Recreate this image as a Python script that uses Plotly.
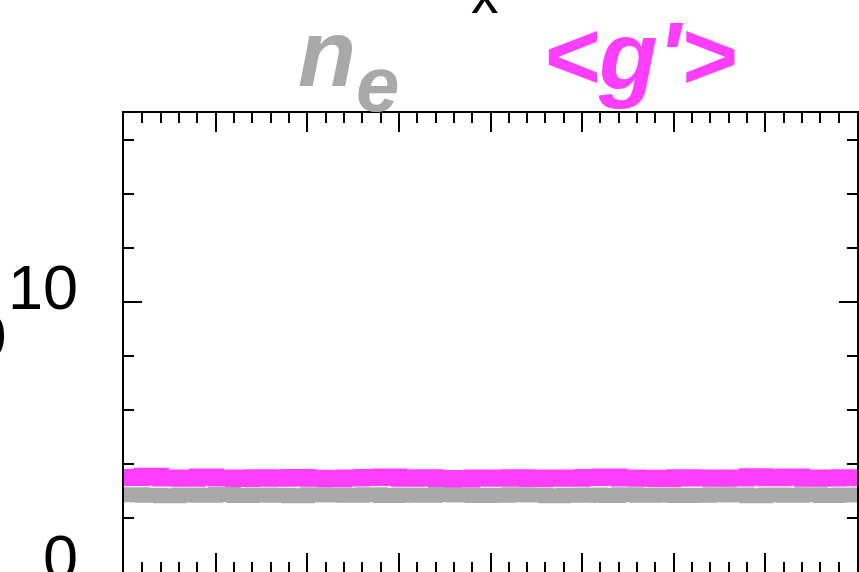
import plotly.graph_objects as go

# ---- data ----
x_vals = list(range(0, 41))
n_e = [2.86, 2.84, 2.82, 2.85, 2.84, 2.87, 2.83, 2.85, 2.84, 2.82, 2.86,
       2.85, 2.84, 2.86, 2.83, 2.85, 2.84, 2.87, 2.85, 2.83, 2.84, 2.86,
       2.85, 2.82, 2.84, 2.85, 2.83, 2.86, 2.84, 2.85, 2.83, 2.84, 2.86,
       2.85, 2.82, 2.85, 2.84, 2.86, 2.83, 2.85, 2.84]
g_prime = [3.50, 3.55, 3.48, 3.47, 3.52, 3.48, 3.46, 3.49, 3.47, 3.50, 3.47,
           3.45, 3.48, 3.50, 3.52, 3.47, 3.49, 3.46, 3.44, 3.48, 3.47, 3.49,
           3.46, 3.48, 3.47, 3.50, 3.52, 3.48, 3.47, 3.46, 3.49, 3.48, 3.47,
           3.48, 3.53, 3.49, 3.52, 3.47, 3.48, 3.49, 3.50]
y_tick_vals = [0, 10]
y_tick_text = ["0", "10"]

W, H = 859, 572
L, T, R, B = 124, 113, 0, 0
PW, PH = W - L - R, H - T - B

def px(xp):
    return (xp - L) / PW

def py(yp):
    return (H - B - yp) / PH

GRAY = "#a9a9a9"
MAG = "#ff3dff"

fig = go.Figure()
fig.add_trace(go.Scatter(x=x_vals, y=n_e, mode="lines", line=dict(color=GRAY, width=15, shape="hv"),
                         showlegend=False, hoverinfo="skip"))
fig.add_trace(go.Scatter(x=x_vals, y=g_prime, mode="lines", line=dict(color=MAG, width=17, shape="hv"),
                         showlegend=False, hoverinfo="skip"))

axis_common = dict(showline=True, linewidth=2, linecolor="black", mirror="ticks",
                   ticks="inside", tickwidth=2, tickcolor="black", showgrid=False,
                   zeroline=False, showticklabels=False)

fig.update_xaxes(range=[0, 40], dtick=5, tick0=0, ticklen=19,
                 minor=dict(dtick=1, ticks="inside", ticklen=10, tickwidth=2, tickcolor="black", showgrid=False),
                 **axis_common)
fig.update_yaxes(range=[0, 17], dtick=10, tick0=0, ticklen=18,
                 minor=dict(dtick=2, ticks="inside", ticklen=10, tickwidth=2, tickcolor="black", showgrid=False),
                 **axis_common)

annotations = []
for v, t in zip(y_tick_vals, y_tick_text):
    annotations.append(dict(x=px(80), xref="paper", y=v, yref="y", text=t, showarrow=False,
                            xanchor="right", yanchor="middle", yshift=15,
                            font=dict(family="Liberation Sans, Arial", size=63, color="black")))

bold_it = "Liberation Sans, Arial"
annotations += [
    dict(x=px(486), y=py(-6), xref="paper", yref="paper", text="x", showarrow=False,
         xanchor="center", yanchor="middle", font=dict(family=bold_it, size=55, color="black")),
    dict(x=px(328), y=py(53), xref="paper", yref="paper", text="<b><i>n</i></b>", showarrow=False,
         xanchor="center", yanchor="middle", font=dict(family=bold_it, size=95, color=GRAY)),
    dict(x=px(378), y=py(84), xref="paper", yref="paper", text="<b><i>e</i></b>", showarrow=False,
         xanchor="center", yanchor="middle", font=dict(family=bold_it, size=78, color=GRAY)),
    dict(x=px(641), y=py(55), xref="paper", yref="paper", text="<b><i>&lt;g'&gt;</i></b>", showarrow=False,
         xanchor="center", yanchor="middle", font=dict(family=bold_it, size=96, color=MAG)),
    dict(x=px(8), y=py(335), xref="paper", yref="paper", text="0", showarrow=False,
         xanchor="right", yanchor="middle", font=dict(family=bold_it, size=62, color="black")),
]

fig.update_layout(width=W, height=H, margin=dict(l=L, r=R, t=T, b=B, pad=0),
                  paper_bgcolor="white", plot_bgcolor="white", annotations=annotations)

fig.write_html("out.html")
